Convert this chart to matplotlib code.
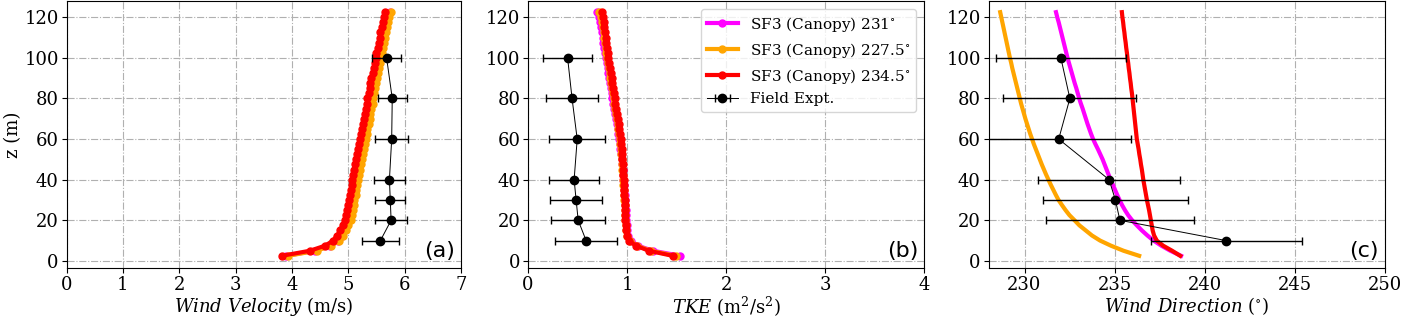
import matplotlib
matplotlib.use("Agg")
from matplotlib import pyplot as plt

plt.rcParams["font.family"] = "DejaVu Serif"
plt.rcParams["mathtext.fontset"] = "dejavuserif"

# simulated profile heights (m)
z_sim = [2.5, 5.0, 7.5, 10.0, 12.5, 15.0, 17.5, 20.0, 22.5, 25.0,
         27.5, 30.0, 32.5, 35.0, 37.5, 40.0, 42.5, 45.0, 47.5, 50.0,
         52.5, 55.0, 57.5, 60.0, 62.5, 65.0, 67.5, 70.0, 72.5, 75.0,
         77.5, 80.0, 82.5, 85.0, 87.5, 90.0, 92.5, 95.0, 97.5, 100.0,
         102.5, 105.0, 107.5, 110.0, 112.5, 115.0, 117.5, 120.0, 122.5]

# wind velocity (m/s)
vel_231 = [3.90, 4.41, 4.68, 4.82, 4.89, 4.94, 4.98, 5.02, 5.04, 5.06,
           5.08, 5.09, 5.11, 5.12, 5.14, 5.15, 5.17, 5.19, 5.20, 5.22,
           5.24, 5.25, 5.27, 5.29, 5.31, 5.32, 5.34, 5.36, 5.37, 5.39,
           5.41, 5.42, 5.44, 5.46, 5.47, 5.49, 5.51, 5.53, 5.55, 5.57,
           5.58, 5.60, 5.62, 5.64, 5.65, 5.67, 5.69, 5.71, 5.74]
vel_2275 = [3.93, 4.44, 4.70, 4.84, 4.91, 4.96, 5.00, 5.04, 5.06, 5.08,
            5.10, 5.11, 5.13, 5.14, 5.16, 5.17, 5.19, 5.21, 5.22, 5.24,
            5.26, 5.27, 5.29, 5.31, 5.33, 5.34, 5.36, 5.38, 5.39, 5.41,
            5.43, 5.44, 5.46, 5.48, 5.49, 5.51, 5.53, 5.55, 5.57, 5.59,
            5.60, 5.62, 5.64, 5.66, 5.67, 5.69, 5.71, 5.73, 5.75]
vel_2345 = [3.82, 4.32, 4.59, 4.73, 4.80, 4.86, 4.90, 4.94, 4.96, 4.98,
            5.00, 5.01, 5.03, 5.04, 5.06, 5.07, 5.09, 5.11, 5.12, 5.14,
            5.16, 5.17, 5.19, 5.21, 5.23, 5.24, 5.26, 5.28, 5.29, 5.31,
            5.33, 5.34, 5.36, 5.38, 5.39, 5.41, 5.43, 5.45, 5.47, 5.49,
            5.50, 5.52, 5.54, 5.56, 5.57, 5.59, 5.61, 5.63, 5.65]

# TKE (m2/s2)
tke_231 = [1.54, 1.26, 1.11, 1.04, 1.015, 1.0, 0.995, 0.99, 0.988, 0.985,
           0.982, 0.978, 0.975, 0.972, 0.968, 0.964, 0.96, 0.955, 0.95, 0.945,
           0.94, 0.934, 0.928, 0.921, 0.914, 0.906, 0.898, 0.889, 0.88, 0.871,
           0.862, 0.853, 0.845, 0.837, 0.829, 0.821, 0.813, 0.804, 0.795, 0.786,
           0.778, 0.77, 0.762, 0.754, 0.746, 0.738, 0.728, 0.715, 0.70]
tke_2275 = [1.49, 1.24, 1.10, 1.03, 1.005, 0.99, 0.985, 0.982, 0.98, 0.977,
            0.975, 0.972, 0.97, 0.967, 0.964, 0.961, 0.958, 0.954, 0.95, 0.946,
            0.942, 0.937, 0.932, 0.926, 0.92, 0.913, 0.905, 0.897, 0.889, 0.88,
            0.872, 0.864, 0.856, 0.849, 0.841, 0.833, 0.825, 0.816, 0.807, 0.798,
            0.791, 0.784, 0.777, 0.77, 0.763, 0.756, 0.746, 0.735, 0.72]
tke_2345 = [1.46, 1.22, 1.09, 1.02, 1.00, 0.992, 0.987, 0.984, 0.982, 0.980,
            0.978, 0.976, 0.974, 0.971, 0.969, 0.966, 0.963, 0.960, 0.957, 0.953,
            0.949, 0.945, 0.940, 0.935, 0.929, 0.922, 0.915, 0.907, 0.899, 0.891,
            0.883, 0.875, 0.868, 0.861, 0.853, 0.846, 0.838, 0.830, 0.821, 0.812,
            0.805, 0.798, 0.791, 0.784, 0.777, 0.770, 0.763, 0.756, 0.748]

# wind direction (deg)
dir_231 = [238.7, 238.1, 237.6, 237.17, 236.83, 236.52, 236.24, 235.98, 235.76, 235.58,
           235.42, 235.28, 235.15, 235.03, 234.91, 234.79, 234.67, 234.56, 234.45, 234.34,
           234.21, 234.08, 233.94, 233.81, 233.7, 233.6, 233.5, 233.41, 233.32, 233.23,
           233.13, 233.04, 232.96, 232.88, 232.79, 232.71, 232.63, 232.55, 232.47, 232.39,
           232.32, 232.25, 232.18, 232.11, 232.04, 231.97, 231.9, 231.82, 231.75]
dir_2275 = [236.37, 235.5, 234.8, 234.2, 233.75, 233.4, 233.05, 232.78, 232.5, 232.28,
            232.08, 231.89, 231.74, 231.6, 231.46, 231.33, 231.2, 231.08, 230.96, 230.85,
            230.74, 230.63, 230.52, 230.42, 230.32, 230.23, 230.14, 230.05, 229.97, 229.89,
            229.81, 229.74, 229.67, 229.6, 229.53, 229.46, 229.39, 229.32, 229.26, 229.19,
            229.13, 229.07, 229.01, 228.95, 228.89, 228.83, 228.77, 228.71, 228.65]
dir_2345 = [238.65, 238.2, 237.7, 237.35, 237.2, 237.12, 237.07, 237.02, 236.97, 236.92,
            236.86, 236.8, 236.75, 236.7, 236.65, 236.6, 236.56, 236.52, 236.47, 236.43,
            236.38, 236.34, 236.29, 236.24, 236.21, 236.18, 236.15, 236.12, 236.09, 236.06,
            236.03, 236.0, 235.97, 235.93, 235.9, 235.86, 235.83, 235.79, 235.76, 235.72,
            235.69, 235.65, 235.62, 235.58, 235.55, 235.51, 235.48, 235.44, 235.41]

# field experiment
z_obs = [10, 20, 30, 40, 60, 80, 100]
vel_obs = [5.57, 5.76, 5.745, 5.73, 5.77, 5.78, 5.68]
vel_err = [0.33, 0.29, 0.27, 0.28, 0.29, 0.26, 0.26]
tke_obs = [0.587, 0.507, 0.486, 0.466, 0.497, 0.445, 0.40]
tke_err = [0.31, 0.27, 0.26, 0.25, 0.28, 0.26, 0.25]
dir_obs = [241.2, 235.3, 235.05, 234.7, 231.9, 232.52, 232.02]
dir_err = [4.2, 4.1, 4.05, 3.95, 4.0, 3.7, 3.6]

labels = ["SF3 (Canopy) 231$^{\\circ}$", "SF3 (Canopy) 227.5$^{\\circ}$",
          "SF3 (Canopy) 234.5$^{\\circ}$", "Field Expt."]
colors = ["magenta", "orange", "red"]

fig = plt.figure(figsize=(14.01, 3.18), dpi=100)
W, H = 1401, 318
boxes = [(66.5, 461), (528, 924), (988.5, 1384.5)]
axes = [fig.add_axes([l / W, 1 - 268 / H, (r - l) / W, 267 / H]) for l, r in boxes]

panels = [
    ([vel_231, vel_2275, vel_2345], vel_obs, vel_err, True),
    ([tke_231, tke_2275, tke_2345], tke_obs, tke_err, True),
    ([dir_231, dir_2275, dir_2345], dir_obs, dir_err, False),
]

for ax, (sims, obs, err, marks) in zip(axes, panels):
    for s, c, lab in zip(sims, colors, labels[:3]):
        if marks:
            ax.plot(s, z_sim, "-o", color=c, lw=3, ms=5, label=lab)
        else:
            ax.plot(s, z_sim, "-", color=c, lw=3, label=lab)
    ax.errorbar(obs, z_obs, xerr=err, fmt="-o", color="k", ms=6, lw=0.7,
                elinewidth=1, capsize=3, label=labels[3], zorder=5)
    ax.grid(True, linestyle="-.", color="#b0b0b0", lw=0.8)
    ax.set_ylim(-3.5, 128)
    ax.set_yticks([0, 20, 40, 60, 80, 100, 120])
    ax.tick_params(labelsize=13, pad=2)

axes[0].set_xlim(0, 7)
axes[0].set_xticks(range(8))
axes[1].set_xlim(0, 4)
axes[1].set_xticks(range(5))
axes[2].set_xlim(228, 250)
axes[2].set_xticks([230, 235, 240, 245, 250])

axes[0].set_ylabel("z (m)", fontsize=13, labelpad=2)
axes[0].set_xlabel("$Wind\\ Velocity$ (m/s)", fontsize=13, labelpad=1)
axes[1].set_xlabel("$TKE$ (m$^2$/s$^2$)", fontsize=13, labelpad=1)
axes[2].set_xlabel("$Wind\\ Direction$ ($^{\\circ}$)", fontsize=13, labelpad=1)

for ax, tag in zip(axes, ["(a)", "(b)", "(c)"]):
    ax.text(0.985, 0.025, tag, transform=ax.transAxes, ha="right", va="bottom",
            fontsize=16, family="DejaVu Sans")

axes[1].legend(loc="upper right", fontsize=11, labelspacing=0.45)

plt.savefig("out.png", dpi=100)
